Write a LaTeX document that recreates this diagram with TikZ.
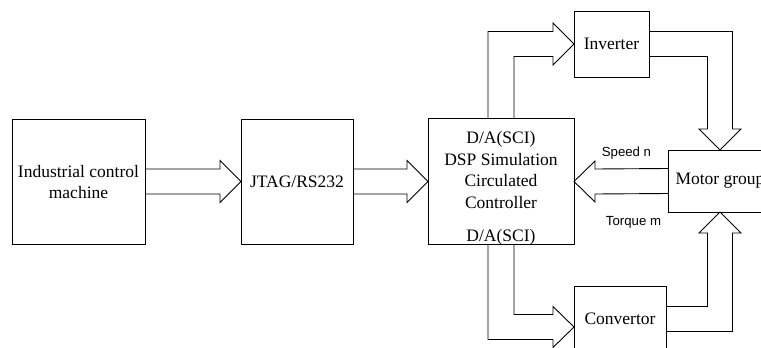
\documentclass[tikz,border=0pt]{standalone}
\usepackage{fontspec}
\setmainfont{Liberation Serif}
\newfontfamily\labelfont{Liberation Sans}
\usetikzlibrary{calc}
\begin{document}
\begin{tikzpicture}[x=1pt,y=-1pt,
  every node/.style={inner sep=0pt, outer sep=0pt},
  box/.style={draw, line width=0.9pt, rectangle},
  boxtext/.style={font=\fontsize{17.5}{20.5}\selectfont, align=center},
  sig/.style={font=\labelfont\fontsize{13.2}{15}\selectfont},
  fat/.style={draw, line width=0.9pt, line join=miter}]
\useasboundingbox (0,0) rectangle (761,348);
\clip (0,0) rectangle (761,348);

% blocks
\node[box, minimum width=133pt, minimum height=125pt] (ipc) at (78.5,181.5) {};
\node[boxtext] (ipctext) at (78.5,182) {Industrial control\\machine};
\node[box, minimum width=112pt, minimum height=125pt] (jtag) at (297,181.5) {};
\node[boxtext] (jtagtext) at (297,182) {JTAG/RS232};
\node[box, minimum width=146pt, minimum height=126pt] (dsp) at (501,181.5) {};
\node[boxtext, font=\fontsize{17.5}{21.5}\selectfont] (dsptext) at (501,170)
  {D/A(SCI)\\DSP Simulation\\Circulated\\Controller};
\node[boxtext] (dspda) at (501,237) {D/A(SCI)};
\node[box, minimum width=75pt, minimum height=66pt] (inv) at (611.5,44) {};
\node[boxtext] (invtext) at (611.5,44) {Inverter};
\node[box, minimum width=104pt, minimum height=62pt] (motor) at (720,181) {};
\node[boxtext] (motortext) at (720,181) {Motor group};
\node[box, minimum width=92pt, minimum height=66pt] (conv) at (620,319) {};
\node[boxtext] (convtext) at (620,319) {Convertor};

% signal labels
\node[sig] (speed) at (626.5,153) {Speed n};
\node[sig] (torque) at (633.5,222) {Torque m};

% industrial control machine -> JTAG/RS232
\draw[fat] ($(ipc.east)+(0,-12.5)$) -- ($(jtag.west)+(-21,-12.5)$)
  -- ($(jtag.west)+(-21,-21)$) -- (jtag.west) -- ($(jtag.west)+(-21,21)$)
  -- ($(jtag.west)+(-21,12.5)$) -- ($(ipc.east)+(0,12.5)$);

% JTAG/RS232 -> DSP
\draw[fat] ($(jtag.east)+(0,-12.5)$) -- ($(dsp.west)+(-21,-12.5)$)
  -- ($(dsp.west)+(-21,-21)$) -- (dsp.west) -- ($(dsp.west)+(-21,21)$)
  -- ($(dsp.west)+(-21,12.5)$) -- ($(jtag.east)+(0,12.5)$);

% DSP -> inverter
\draw[fat] ($(dsp.north)+(-13,0)$) |- ($(inv.west)+(-21,-12.5)$)
  -- ($(inv.west)+(-21,-21)$) -- (inv.west) -- ($(inv.west)+(-21,21)$)
  -- ($(inv.west)+(-21,12.5)$) -| ($(dsp.north)+(13,0)$);

% inverter -> motor group
\draw[fat] ($(inv.east)+(0,-12.5)$) -| ($(motor.north)+(12.5,-21)$)
  -- ($(motor.north)+(21,-21)$) -- (motor.north) -- ($(motor.north)+(-21,-21)$)
  -- ($(motor.north)+(-12.5,-21)$) |- ($(inv.east)+(0,12.5)$);

% motor group feedback -> DSP
\draw[fat] ($(motor.west)+(0,-12.5)$) -- ($(dsp.east)+(21,-12.5)$)
  -- ($(dsp.east)+(21,-20.5)$) -- (dsp.east) -- ($(dsp.east)+(21,20.5)$)
  -- ($(dsp.east)+(21,12.5)$) -- ($(motor.west)+(0,12.5)$);

% DSP -> convertor
\coordinate (convin) at ($(conv.west)+(0,8)$);
\draw[fat] ($(dsp.south)+(-13,0)$) |- ($(convin)+(-21,12.5)$)
  -- ($(convin)+(-21,20.5)$) -- (convin) -- ($(convin)+(-21,-20.5)$)
  -- ($(convin)+(-21,-12.5)$) -| ($(dsp.south)+(13,0)$);

% convertor -> motor group
\draw[fat] ($(conv.east)+(0,-12.5)$) -| ($(motor.south)+(-12.5,21)$)
  -- ($(motor.south)+(-21,21)$) -- (motor.south) -- ($(motor.south)+(21,21)$)
  -- ($(motor.south)+(12.5,21)$) |- ($(conv.east)+(0,12.5)$);
\end{tikzpicture}
\end{document}
